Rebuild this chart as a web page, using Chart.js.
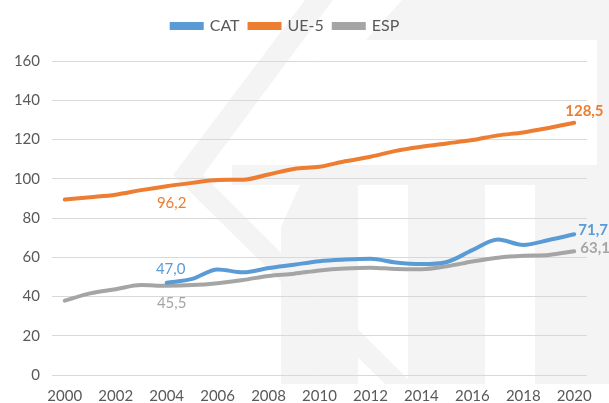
<!DOCTYPE html>
<html>
<head>
<meta charset="utf-8">
<script src="https://cdn.jsdelivr.net/npm/chart.js@4"></script>
<style>
  html, body { margin: 0; padding: 0; background: #fff; }
  #wrap { width: 609px; height: 403px; }
</style>
</head>
<body>
<div id="wrap"><canvas id="chart"></canvas></div>
<script>
const years = ['2000','2001','2002','2003','2004','2005','2006','2007','2008','2009','2010',
               '2011','2012','2013','2014','2015','2016','2017','2018','2019','2020'];
const cat = [null, null, null, null, 47.0, 49.0, 53.8, 52.3, 54.5, 56.2, 58.0,
             58.8, 59.2, 57.3, 56.5, 57.6, 63.6, 69.0, 66.3, 68.8, 71.7];
const ue5 = [89.4, 90.6, 91.9, 94.2, 96.2, 97.9, 99.4, 99.5, 102.2, 105.0, 106.1,
             108.9, 111.2, 114.2, 116.3, 118.0, 119.7, 122.1, 123.6, 125.9, 128.5];
const esp = [37.9, 41.6, 43.7, 45.8, 45.5, 45.8, 46.8, 48.4, 50.5, 51.6, 53.3,
             54.3, 54.7, 54.0, 53.9, 55.4, 57.8, 59.8, 60.8, 61.2, 63.1];
const yTicks = [0, 20, 40, 60, 80, 100, 120, 140, 160];

const FONT = 'Lato, "Open Sans", sans-serif';

// etiquetes de dades: [sèrie, índex, dx, dy, alineació, negreta]
const labels = [
  [0, 4, 4, -14, 'center', false],
  [1, 4, 5, 17, 'center', false],
  [2, 4, 5, 17, 'center', false],
  [0, 20, 4, -4, 'left', true],
  [1, 20, -9, -12, 'left', true],
  [2, 20, 6, -3, 'left', true]
];

const dataLabels = {
  id: 'dataLabels',
  afterDatasetsDraw(chart) {
    const ctx = chart.ctx;
    ctx.save();
    ctx.textBaseline = 'middle';
    labels.forEach(([ds, i, dx, dy, align, bold]) => {
      const pt = chart.getDatasetMeta(ds).data[i];
      const value = chart.data.datasets[ds].data[i];
      ctx.fillStyle = chart.data.datasets[ds].borderColor;
      ctx.font = (bold ? 'bold ' : '') + '15px ' + FONT;
      ctx.textAlign = align;
      ctx.fillText(value.toFixed(1).replace('.', ','), pt.x + dx, pt.y + dy);
    });
    ctx.restore();
  }
};

// marca d'aigua gris clar del fons
const watermark = {
  id: 'watermark',
  beforeDraw(chart) {
    const ctx = chart.ctx;
    const poly = pts => {
      ctx.beginPath();
      pts.forEach(([x, y], k) => k ? ctx.lineTo(x, y) : ctx.moveTo(x, y));
      ctx.closePath();
      ctx.fill();
    };
    ctx.save();
    ctx.fillStyle = '#f4f4f4';
    poly([[305, 0], [333, 0], [203, 175], [413, 384], [385, 384], [173, 175]]);
    poly([[402, 0], [609, 0], [609, 40], [366, 40]]);
    ctx.fillRect(597, 40, 12, 344);
    ctx.fillRect(232, 165, 377, 20);
    poly([[300, 185], [358, 185], [358, 384], [281, 384], [281, 227]]);
    ctx.fillRect(408, 185, 77, 199);
    ctx.fillRect(535, 185, 74, 199);
    ctx.restore();
  }
};

// separació entre la llegenda i el gràfic
const legendGap = {
  id: 'legendGap',
  beforeInit(chart) {
    const fit = chart.legend.fit;
    chart.legend.fit = function () {
      fit.call(this);
      this.height += 17;
    };
  },
  afterLayout(chart) {
    chart.legend.left -= 15;
    chart.legend.right -= 15;
  }
};

new Chart(document.getElementById('chart'), {
  type: 'line',
  data: {
    labels: years,
    datasets: [
      { label: 'CAT', data: cat, borderColor: '#5B9BD5', backgroundColor: '#5B9BD5' },
      { label: 'UE-5', data: ue5, borderColor: '#ED7D31', backgroundColor: '#ED7D31' },
      { label: 'ESP', data: esp, borderColor: '#A5A5A5', backgroundColor: '#A5A5A5' }
    ]
  },
  options: {
    responsive: true,
    maintainAspectRatio: false,
    animation: false,
    layout: { padding: { left: 14, right: 22, top: 8, bottom: 0 } },
    elements: {
      line: { borderWidth: 4, tension: 0.4, cubicInterpolationMode: 'monotone', borderCapStyle: 'round' },
      point: { radius: 0 }
    },
    plugins: {
      legend: {
        position: 'top',
        labels: {
          color: '#595959',
          font: { size: 16, family: FONT },
          boxWidth: 30, boxHeight: 4, padding: 10
        }
      },
      tooltip: { enabled: false }
    },
    scales: {
      x: {
        offset: true,
        grid: { display: false, drawTicks: false },
        border: { display: false },
        afterFit(scale) { scale.height = 28; },
        ticks: {
          color: '#595959', maxRotation: 0, autoSkip: false, padding: 12,
          font: { size: 15, family: FONT },
          callback(v, i) { return i % 2 === 0 ? years[i] : ''; }
        }
      },
      y: {
        min: 0, max: 160,
        afterBuildTicks(axis) { axis.ticks = yTicks.map(v => ({ value: v })); },
        afterFit(scale) { scale.width = 38; },
        grid: { color: '#d9d9d9', drawTicks: false },
        border: { display: false },
        ticks: { color: '#595959', padding: 12, font: { size: 15, family: FONT } }
      }
    }
  },
  plugins: [watermark, legendGap, dataLabels]
});
</script>
</body>
</html>
